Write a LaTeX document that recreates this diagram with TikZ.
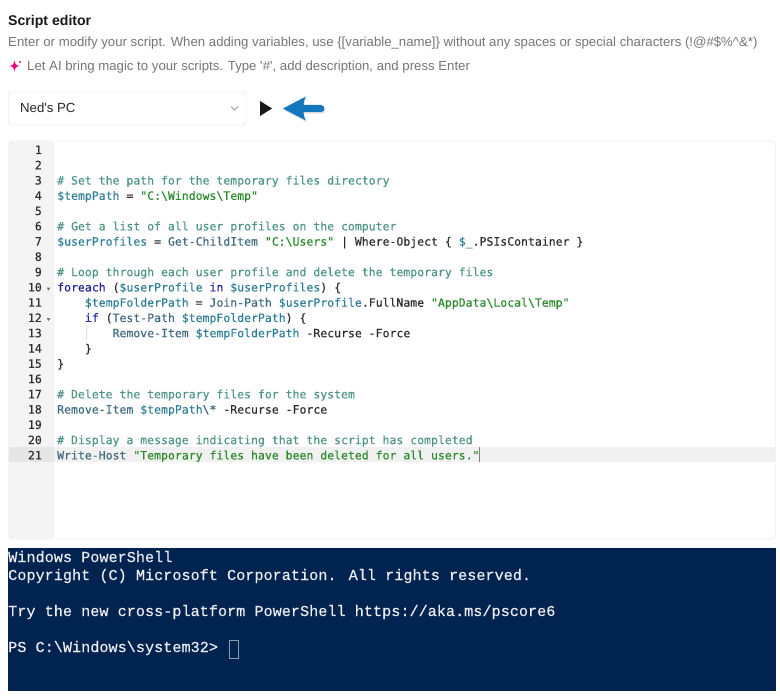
\documentclass[tikz,border=0pt]{standalone}
\usepackage{fontspec}
\usetikzlibrary{shadows}
\newfontfamily\uifont{Liberation Sans}
\newfontfamily\codefont[FakeBold=0.15]{DejaVu Sans Mono}
\newfontfamily\termfont[FakeBold=0.3]{Liberation Mono}
\definecolor{edgegray}{HTML}{DEDEDE}
\definecolor{guttergray}{HTML}{F4F4F4}
\definecolor{activegray}{HTML}{E6E6E6}
\definecolor{linegray}{HTML}{F1F1F1}
\definecolor{subtext}{HTML}{767676}
\definecolor{cmtcol}{HTML}{4E9488}
\definecolor{varcol}{HTML}{2F7F96}
\definecolor{strcol}{HTML}{2B8A2B}
\definecolor{kwcol}{HTML}{23239A}
\definecolor{cmdcol}{HTML}{3F6A80}
\definecolor{plaincol}{HTML}{2C2C2C}
\definecolor{psblue}{HTML}{012350}
\definecolor{arrowblue}{HTML}{1476BC}
\newcommand{\cmt}[1]{\textcolor{cmtcol}{#1}}
\newcommand{\vr}[1]{\textcolor{varcol}{#1}}
\newcommand{\st}[1]{\textcolor{strcol}{#1}}
\newcommand{\kw}[1]{\textcolor{kwcol}{#1}}
\newcommand{\cm}[1]{\textcolor{cmdcol}{#1}}
\newcommand{\bs}{\textbackslash}
\tikzset{
  uitext/.style={anchor=base west, inner sep=0pt, font=\uifont\fontsize{13.2}{16}\selectfont, text=subtext},
  codetext/.style={anchor=base west, inner sep=0pt, font=\codefont\fontsize{11.5}{14}\selectfont, text=plaincol},
  lineno/.style={anchor=base east, inner sep=0pt, font=\codefont\fontsize{11.5}{14}\selectfont, text=plaincol},
  termtext/.style={anchor=base west, inner sep=0pt, font=\termfont\fontsize{15.2}{18}\selectfont, text=white!92!psblue},
  foldmark/.style={fill=black!55},
}
\begin{document}
\begin{tikzpicture}[x=1pt,y=-1pt]
\useasboundingbox (0,0) rectangle (780,698);
\fill[white] (0,0) rectangle (780,698);

% header
\node[uitext, text=black!90, font=\uifont\bfseries\fontsize{14.1}{17}\selectfont] (title) at (8,26) {Script editor};
\node[uitext] (hint) at (8,47) {Enter or modify your script. When adding variables, use \{[variable\_name]\} without any spaces or special characters (!@\#\$\%\textasciicircum\&*)};
\node[uitext] (magic) at (27,71) {Let AI bring magic to your scripts. Type '\#', add description, and press Enter};
\fill[magenta!85!red] (14.5,60.5) .. controls (15,64) and (16,65.5) .. (19.5,66) .. controls (16,66.5) and (15,68) .. (14.5,71.5) .. controls (14,68) and (13,66.5) .. (9.5,66) .. controls (13,65.5) and (14,64) .. cycle;
\fill[magenta!85!red] (20,62) circle (1.1);

% device picker
\draw[edgegray, rounded corners=3pt, fill=white] (8.5,92) rectangle (246,125);
\node[uitext, text=black!85] (device) at (20,113) {Ned's PC};
\draw[black!55, line width=.7pt] (231,106.5) -- (234.5,110) -- (238,106.5);
\fill[black!90] (260,101) -- (272,108.5) -- (260,116) -- cycle;
\fill[arrowblue, line join=round, drop shadow={shadow xshift=.6pt, shadow yshift=-1.5pt, opacity=.3}] (283,108.5) -- (306,96.5) .. controls (304,100) and (303.5,102) .. (303.5,105) -- (321,105) .. controls (325.5,105) and (325.5,112) .. (321,112) -- (303.5,112) .. controls (303.5,115) and (304,117) .. (306,120.5) -- cycle;

% editor
\draw[edgegray, rounded corners=4pt, fill=white] (8.5,141) rectangle (775.5,539);
\fill[guttergray] (54,141.5) [rounded corners=4pt] -- (9,141.5) -- (9,538.5) [sharp corners] -- (54,538.5) -- cycle;
\fill[activegray] (9,447) rectangle (54,462);
\fill[linegray] (54,447) rectangle (775,462);
\draw[black!12] (86.5,325) -- (86.5,340);
\draw[black!50, line width=.8pt] (479.5,447) -- (479.5,462);
\foreach \n in {1,...,21}{
  \coordinate (l\n) at (57,{154+15.27*(\n-1)});
  \node[lineno] (num\n) at (42,{154+15.27*(\n-1)}) {\n};
}
\fill[foldmark] (46.5,287.5) -- (50.5,287.5) -- (48.5,290.5) -- cycle;
\fill[foldmark] (46.5,318) -- (50.5,318) -- (48.5,321) -- cycle;

\node[codetext] (code3) at (l3) {\cmt{\# Set the path for the temporary files directory}};
\node[codetext] (code4) at (l4) {\vr{\$tempPath} = \st{"C:\bs Windows\bs Temp"}};
\node[codetext] (code6) at (l6) {\cmt{\# Get a list of all user profiles on the computer}};
\node[codetext] (code7) at (l7) {\vr{\$userProfiles} = \cm{Get-ChildItem} \st{"C:\bs Users"} | Where-Object \{ \vr{\$\_}.PSIsContainer \}};
\node[codetext] (code9) at (l9) {\cmt{\# Loop through each user profile and delete the temporary files}};
\node[codetext] (code10) at (l10) {\kw{foreach} (\vr{\$userProfile} \kw{in} \vr{\$userProfiles}) \{};
\node[codetext] (code11) at (l11) {\hphantom{0000}\vr{\$tempFolderPath} = \cm{Join-Path} \vr{\$userProfile}.FullName \st{"AppData\bs Local\bs Temp"}};
\node[codetext] (code12) at (l12) {\hphantom{0000}\kw{if} (\cm{Test-Path} \vr{\$tempFolderPath}) \{};
\node[codetext] (code13) at (l13) {\hphantom{00000000}\cm{Remove-Item} \vr{\$tempFolderPath} -Recurse -Force};
\node[codetext] (code14) at (l14) {\hphantom{0000}\}};
\node[codetext] (code15) at (l15) {\}};
\node[codetext] (code17) at (l17) {\cmt{\# Delete the temporary files for the system}};
\node[codetext] (code18) at (l18) {\cm{Remove-Item} \vr{\$tempPath}\cm{\bs *} -Recurse -Force};
\node[codetext] (code20) at (l20) {\cmt{\# Display a message indicating that the script has completed}};
\node[codetext] (code21) at (l21) {\cm{Write-Host} \st{"Temporary files have been deleted for all users."}};

% terminal
\fill[psblue] (7.5,548) rectangle (776,691);
\node[termtext] (term1) at (8,562) {Windows PowerShell};
\node[termtext] (term2) at (8,580) {Copyright (C) Microsoft Corporation. All rights reserved.};
\node[termtext] (term3) at (8,616) {Try the new cross-platform PowerShell https://aka.ms/pscore6};
\node[termtext] (term4) at (8,652) {PS C:\bs Windows\bs system32>};
\draw[white!55!psblue, line width=.8pt] (229,640.5) rectangle (238,658);
\end{tikzpicture}
\end{document}
